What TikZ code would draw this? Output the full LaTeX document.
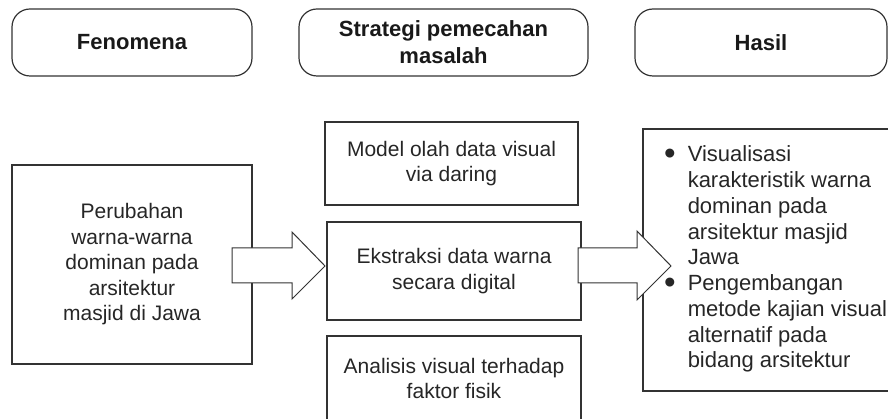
\documentclass[tikz,border=0pt]{standalone}
\usepackage{fontspec}
\setmainfont{Liberation Sans}

\tikzstyle{title}=[draw=black!80, line width=1.2pt, rounded corners=18pt, minimum height=67pt, inner sep=0pt, align=center, text=black!90, font=\bfseries\fontsize{22}{27}\selectfont]
\tikzstyle{plainbox}=[draw=black!80, line width=1.2pt, inner sep=0pt, align=center, text=black!85, font=\fontsize{21}{25.5}\selectfont]
\tikzstyle{blockarrow}=[draw=black!80, fill=white, line width=1pt]
\newcommand{\bigbullet}{\raisebox{-0.12em}{\scalebox{1.5}{\textbullet}}}

\begin{document}
\begin{tikzpicture}[x=1pt, y=-1pt]
  \useasboundingbox (0,0) rectangle (888,419);
  \clip (0,0) rectangle (888,419);
  % headings
  \node[title, minimum width=240pt] (fenomena) at (132,42.5) {Fenomena};
  \node[title, minimum width=289pt] (strategi) at (443.5,42.5) {Strategi pemecahan\\masalah};
  \node[title, minimum width=252pt] (hasil) at (761,42.5) {Hasil};
  % boxes
  \node[plainbox, minimum width=240pt, minimum height=199pt] (perubahan) at (132,264.5)
    {Perubahan\\warna-warna\\dominan pada\\arsitektur\\masjid di Jawa};
  \node[plainbox, minimum width=253pt, minimum height=83pt] (daring) at (451.5,163.5)
    {Model olah data visual\\via daring};
  \node[plainbox, minimum width=254pt, minimum height=98pt] (ekstraksi) at (454,271)
    {Ekstraksi data warna\\secara digital};
  \node[plainbox, minimum width=254pt, minimum height=85pt] (analisis) at (454,378.5)
    {Analisis visual terhadap\\faktor fisik};
  \node[plainbox, minimum width=248pt, minimum height=262pt] (luaran) at (767,260) {};
  % block arrows
  \draw[blockarrow] (232,248) -- (292,248) -- (292,232) -- (325,266)
    -- (292,299) -- (292,283) -- (232,283) -- cycle;
  \draw[blockarrow] (578,248) -- (637,248) -- (637,231) -- (671,266)
    -- (637,300) -- (637,283) -- (578,283) -- cycle;
  % list in the last box
  \node[anchor=base west, inner sep=0pt, text=black!85, font=\fontsize{22}{25.75}\selectfont] (daftar) at (664,162)
    {\begin{tabular}[t]{@{}l@{\hspace{12pt}}l@{}}
      \bigbullet & Visualisasi\\
                 & karakteristik warna\\
                 & dominan pada\\
                 & arsitektur masjid\\
                 & Jawa\\
      \bigbullet & Pengembangan\\
                 & metode kajian visual\\
                 & alternatif pada\\
                 & bidang arsitektur
    \end{tabular}};
\end{tikzpicture}
\end{document}
